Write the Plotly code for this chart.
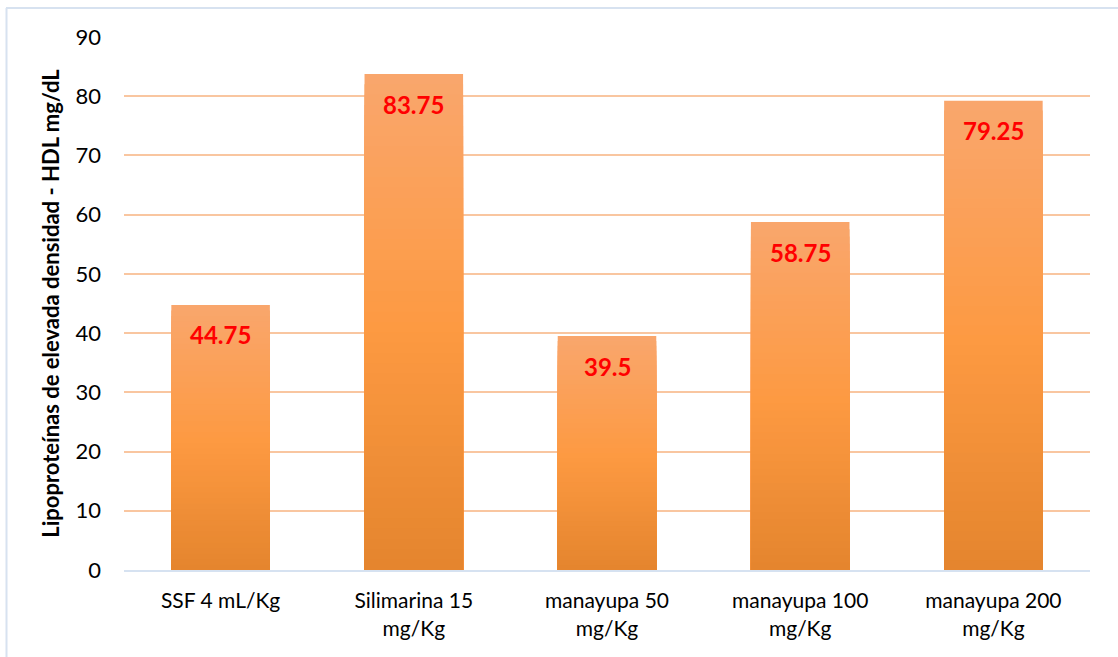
import plotly.graph_objects as go
from plotly.colors import sample_colorscale

# Grupos de tratamiento y valores medios de HDL (mg/dL)
categorias = [
    "SSF 4 mL/Kg",
    "Silimarina 15<br>mg/Kg",
    "manayupa 50<br>mg/Kg",
    "manayupa 100<br>mg/Kg",
    "manayupa 200<br>mg/Kg",
]
hdl = [44.75, 83.75, 39.5, 58.75, 79.25]
etiquetas = ["44.75", "83.75", "39.5", "58.75", "79.25"]
ticks_y = [0, 10, 20, 30, 40, 50, 60, 70, 80, 90]

# Degradado vertical de cada barra: claro arriba, oscuro abajo
escala = [[0.0, "#E4842D"], [0.5, "#FD9A42"], [1.0, "#F9A66C"]]
capas = 48

fig = go.Figure()
for k in range(capas):
    frac = 1 - k / capas
    color = sample_colorscale(escala, [frac])[0]
    fig.add_trace(go.Bar(
        x=categorias,
        y=[v * frac for v in hdl],
        marker=dict(color=color, line=dict(width=0)),
        width=0.51,
        hoverinfo="skip",
        showlegend=False,
    ))

# Etiquetas de valor dentro de cada barra, cerca del borde superior
for cat, v, txt in zip(categorias, hdl, etiquetas):
    fig.add_annotation(
        x=cat, y=v, text=txt, showarrow=False,
        yanchor="middle", yshift=-30,
        font=dict(family="Lato, Carlito, sans-serif", size=24, color="#FF0000", weight="bold"),
    )

# Marco del gráfico
W, H = 1118, 657
ml, mr, mt, mb = 124, 28, 37, 87
pw, ph = W - ml - mr, H - mt - mb
def px_x(p):
    return (p - ml) / pw
def px_y(p):
    return (H - mb - p) / ph
fig.add_shape(type="line", xref="paper", yref="paper",
              x0=px_x(6), x1=px_x(W + 5), y0=px_y(8), y1=px_y(8),
              line=dict(color="#D7E2F0", width=2))
fig.add_shape(type="line", xref="paper", yref="paper",
              x0=px_x(6.5), x1=px_x(6.5), y0=px_y(8), y1=px_y(H + 5),
              line=dict(color="#D7E2F0", width=2))

fig.update_layout(
    width=W, height=H,
    margin=dict(l=ml, r=mr, t=mt, b=mb),
    barmode="overlay",
    paper_bgcolor="white",
    plot_bgcolor="white",
    font=dict(family="Lato, Carlito, sans-serif", size=21, color="#000000"),
    xaxis=dict(
        showgrid=False,
        showline=True, linecolor="#D6E2F1", linewidth=2,
        ticks="", ticklabelstandoff=11,
        tickfont=dict(size=21),
    ),
    yaxis=dict(
        range=[0, 90],
        tickvals=ticks_y,
        showgrid=True, gridcolor="#F9C6A0", gridwidth=1.5,
        zeroline=False, showline=False,
        ticks="", ticklabelstandoff=22,
        tickfont=dict(size=22),
        title=dict(
            text="Lipoproteínas de elevada densidad - HDL mg/dL",
            font=dict(size=22, weight="bold"),
            standoff=9,
        ),
    ),
)

fig.write_html("out.html")
